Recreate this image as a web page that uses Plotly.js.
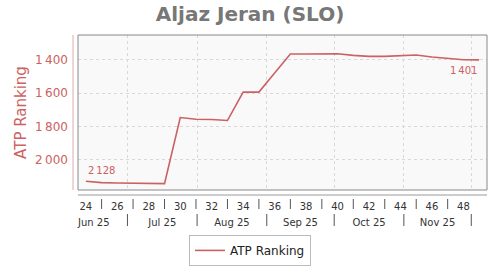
<!DOCTYPE html>
<html>
<head>
<meta charset="utf-8">
<script src="https://cdn.plot.ly/plotly-3.0.1.min.js"></script>
<style>html,body{margin:0;padding:0;background:#fff}#chart{width:500px;height:270px}</style>
</head>
<body>
<div id="chart"></div>
<script>
// Week centres (ISO weeks 24..49 of 2025, Thursday noon)
const weekDates = ['2025-06-12 12:00','2025-06-19 12:00','2025-06-26 12:00','2025-07-03 12:00','2025-07-10 12:00','2025-07-17 12:00','2025-07-24 12:00','2025-07-31 12:00','2025-08-07 12:00','2025-08-14 12:00','2025-08-21 12:00','2025-08-28 12:00','2025-09-04 12:00','2025-09-11 12:00','2025-09-18 12:00','2025-09-25 12:00','2025-10-02 12:00','2025-10-09 12:00','2025-10-16 12:00','2025-10-23 12:00','2025-10-30 12:00','2025-11-06 12:00','2025-11-13 12:00','2025-11-20 12:00','2025-11-27 12:00','2025-12-04 12:00'];
const ranking = [2128,2136,2138,2139,2140,2142,1746,1756,1758,1764,1594,1594,1480,1366,1366,1365,1364,1374,1380,1380,1374,1372,1384,1392,1400,1401];
const weekTickDates = ['2025-06-12 12:00','2025-06-26 12:00','2025-07-10 12:00','2025-07-24 12:00','2025-08-07 12:00','2025-08-21 12:00','2025-09-04 12:00','2025-09-18 12:00','2025-10-02 12:00','2025-10-16 12:00','2025-10-30 12:00','2025-11-13 12:00','2025-11-27 12:00'];
const weekTickLabels = ['24','26','28','30','32','34','36','38','40','42','44','46','48'];
const weekSepDates = ['2025-06-19 12:00','2025-07-03 12:00','2025-07-17 12:00','2025-07-31 12:00','2025-08-14 12:00','2025-08-28 12:00','2025-09-11 12:00','2025-09-25 12:00','2025-10-09 12:00','2025-10-23 12:00','2025-11-06 12:00','2025-11-20 12:00'];
const monthStarts = ['2025-07-01','2025-08-01','2025-09-01','2025-10-01','2025-11-01','2025-12-01'];
const yTicks = [1400,1600,1800,2000];
const xRange = ['2025-06-09','2025-12-08'];
const yRange = [2180,1252];

const RED = '#cc6161';
const fmt = v => String(v).replace(/\B(?=(\d{3})+(?!\d))/g, '\u2009');

const shapes = [
  {type:'rect', xref:'paper', yref:'paper', x0:0, x1:1, y0:0, y1:1, line:{color:'#888', width:1}, layer:'above'},
  {type:'line', xref:'paper', yref:'paper', x0:0, x1:1, ysizemode:'pixel', yanchor:0, y0:-5, y1:-5, line:{color:'#999', width:1}},
  {type:'line', yref:'paper', xref:'paper', y0:0, y1:1, xsizemode:'pixel', xanchor:0, x0:-5, x1:-5, line:{color:'#e3a9a9', width:1}}
];
weekSepDates.forEach(d => shapes.push({type:'line', xref:'x', yref:'paper', x0:d, x1:d, ysizemode:'pixel', yanchor:0, y0:-9, y1:-19, line:{color:'#555', width:1}}));
monthStarts.forEach(d => shapes.push({type:'line', xref:'x', yref:'paper', x0:d, x1:d, ysizemode:'pixel', yanchor:0, y0:-24, y1:-36, line:{color:'#555', width:1}}));

const n = ranking.length;
const data = [
  {x: weekDates, y: ranking, type:'scatter', mode:'lines', name:'ATP Ranking',
   line:{color:RED, width:1.6}, xaxis:'x', yaxis:'y'},
  {x: weekDates, y: ranking, type:'scatter', mode:'lines', name:'weeks', showlegend:false, hoverinfo:'skip',
   line:{color:'rgba(0,0,0,0)', width:0}, xaxis:'x2', yaxis:'y'}
];

const layout = {
  width:500, height:270,
  margin:{l:78, r:13, t:35, b:80},
  paper_bgcolor:'#fff', plot_bgcolor:'#f9f9f9',
  font:{family:'DejaVu Sans', color:'#333'},
  separators:'.\u2009',
  title:{text:'<b>Aljaz Jeran (SLO)</b>', x:0.5, xref:'container', xanchor:'center', y:0.948, yref:'container', yanchor:'middle', font:{size:20, color:'#777', family:'DejaVu Sans'}},
  xaxis:{type:'date', range:xRange, tickmode:'linear', tick0:'2025-06-01', dtick:'M1', ticklabelmode:'period', tickformat:'%b %y',
         showgrid:true, gridcolor:'#d8d8d8', griddash:'3px,3px', gridwidth:1, ticks:'', showline:false, zeroline:false,
         tickfont:{size:10, color:'#333'}, ticklabelstandoff:25},
  xaxis2:{type:'date', overlaying:'x', anchor:'y', side:'bottom', range:xRange, tickmode:'array', tickvals:weekTickDates, ticktext:weekTickLabels,
          showgrid:false, ticks:'', showline:false, zeroline:false, tickfont:{size:10, color:'#333'}, ticklabelstandoff:9},
  yaxis:{range:yRange, tickmode:'array', tickvals:yTicks, tickformat:',d', showgrid:true, gridcolor:'#d8d8d8', griddash:'3px,3px',
         ticks:'', showline:false, zeroline:false, tickfont:{size:12, color:RED}, ticklabelstandoff:9,
         title:{text:'ATP Ranking', font:{size:15, color:RED}, standoff:4}},
  showlegend:true,
  legend:{orientation:'h', x:0.5, xref:'container', xanchor:'center', y:0.13, yref:'container', yanchor:'top',
          bordercolor:'#bbb', borderwidth:1, bgcolor:'#fff', font:{size:12, color:'#222'}},
  shapes: shapes,
  annotations:[
    {x:weekDates[0], y:ranking[0], xref:'x', yref:'y', text:fmt(ranking[0]), showarrow:false, xanchor:'left', yanchor:'bottom', yshift:3, font:{size:10, color:RED}},
    {x:weekDates[n-1], y:ranking[n-1], xref:'x', yref:'y', text:fmt(ranking[n-1]), showarrow:false, xanchor:'right', yanchor:'top', yshift:-3, font:{size:10, color:RED}},
    {x:0.978, y:0.026, xref:'container', yref:'container', text:'© www.coretennis.net, 12-03-2025', showarrow:false, xanchor:'right', yanchor:'middle', font:{size:9.5, color:'#666'}}
  ]
};

Plotly.newPlot('chart', data, layout, {displayModeBar:false, staticPlot:true});
</script>
</body>
</html>
